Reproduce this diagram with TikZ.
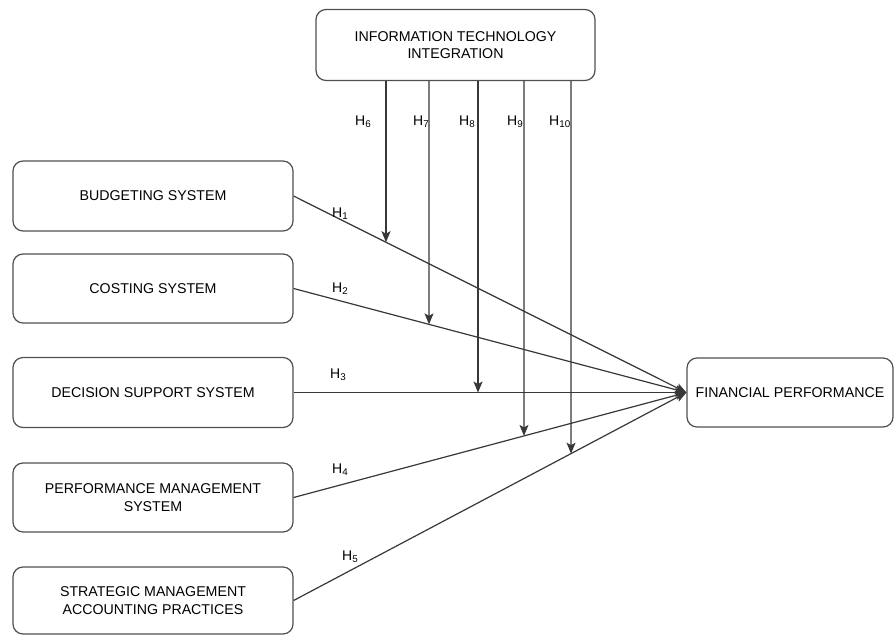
\documentclass[tikz,border=0pt]{standalone}
\usepackage{fontspec}
\setmainfont{Liberation Sans}
\usetikzlibrary{arrows.meta,calc}
\definecolor{boxgray}{HTML}{505050}
\definecolor{linegray}{HTML}{383838}
\begin{document}
\begin{tikzpicture}[x=1pt,y=-1pt,
  box/.style={draw=boxgray, line width=1.2pt, rounded corners=10pt, align=center,
    font=\fontsize{14.2}{17.5}\selectfont, inner sep=0pt},
  conn/.style={draw=linegray, line width=1.2pt},
  arr/.style={conn, -{Stealth[length=11pt,width=9pt,inset=2.5pt]}},
  hlab/.style={anchor=base west, inner sep=0pt, font=\fontsize{14}{16}\selectfont}]
\useasboundingbox[fill=white] (0,0) rectangle (894,635);

% boxes
\node[box, minimum width=279pt, minimum height=71pt] (itc) at (455.5,45) {INFORMATION TECHNOLOGY\\INTEGRATION};
\node[box, minimum width=280pt, minimum height=70pt] (bud) at (153,196) {BUDGETING SYSTEM};
\node[box, minimum width=280pt, minimum height=69pt] (cost) at (153,288.5) {COSTING SYSTEM};
\node[box, minimum width=280pt, minimum height=70pt] (dss) at (153,392.5) {DECISION SUPPORT SYSTEM};
\node[box, minimum width=280pt, minimum height=69pt] (pms) at (153,497.5) {PERFORMANCE MANAGEMENT\\SYSTEM};
\node[box, minimum width=280pt, minimum height=67pt] (smap) at (153,600.5) {STRATEGIC MANAGEMENT\\ACCOUNTING PRACTICES};
\node[box, minimum width=206pt, minimum height=69pt] (fp) at (790,392.5) {FINANCIAL PERFORMANCE};

% main paths
\draw[arr] (bud.east) -- (fp.west);
\draw[arr] (cost.east) -- (fp.west);
\draw[arr] (dss.east) -- (fp.west);
\draw[arr] (pms.east) -- (fp.west);
\draw[arr] (smap.east) -- (fp.west);

% moderating paths
\coordinate (a6) at (386,0);   \coordinate (b6) at (386,635);
\coordinate (a7) at (429,0);   \coordinate (b7) at (429,635);
\coordinate (a8) at (478,0);   \coordinate (b8) at (478,635);
\coordinate (a9) at (524,0);   \coordinate (b9) at (524,635);
\coordinate (a10) at (571,0);  \coordinate (b10) at (571,635);

\coordinate (t6) at (intersection of a6--b6 and bud.east--fp.west);
\coordinate (t7) at (intersection of a7--b7 and cost.east--fp.west);
\coordinate (t8) at (intersection of a8--b8 and dss.east--fp.west);
\coordinate (t9) at (intersection of a9--b9 and pms.east--fp.west);
\coordinate (t10) at (intersection of a10--b10 and smap.east--fp.west);

\draw[arr] (a6 |- itc.south) -- (t6);
\draw[arr] (a7 |- itc.south) -- (t7);
\draw[arr] (a8 |- itc.south) -- (t8);
\draw[arr] (a9 |- itc.south) -- (t9);
\draw[arr] (a10 |- itc.south) -- (t10);

% labels
\node[hlab] (h1) at (332,217) {H\textsubscript{1}};
\node[hlab] (h2) at (332,292) {H\textsubscript{2}};
\node[hlab] (h3) at (330,378) {H\textsubscript{3}};
\node[hlab] (h4) at (332,473) {H\textsubscript{4}};
\node[hlab] (h5) at (342,560) {H\textsubscript{5}};
\node[hlab] (h6) at (355,125) {H\textsubscript{6}};
\node[hlab] (h7) at (413,125) {H\textsubscript{7}};
\node[hlab] (h8) at (459,125) {H\textsubscript{8}};
\node[hlab] (h9) at (507,125) {H\textsubscript{9}};
\node[hlab] (h10) at (549,125) {H\textsubscript{10}};
\end{tikzpicture}
\end{document}
